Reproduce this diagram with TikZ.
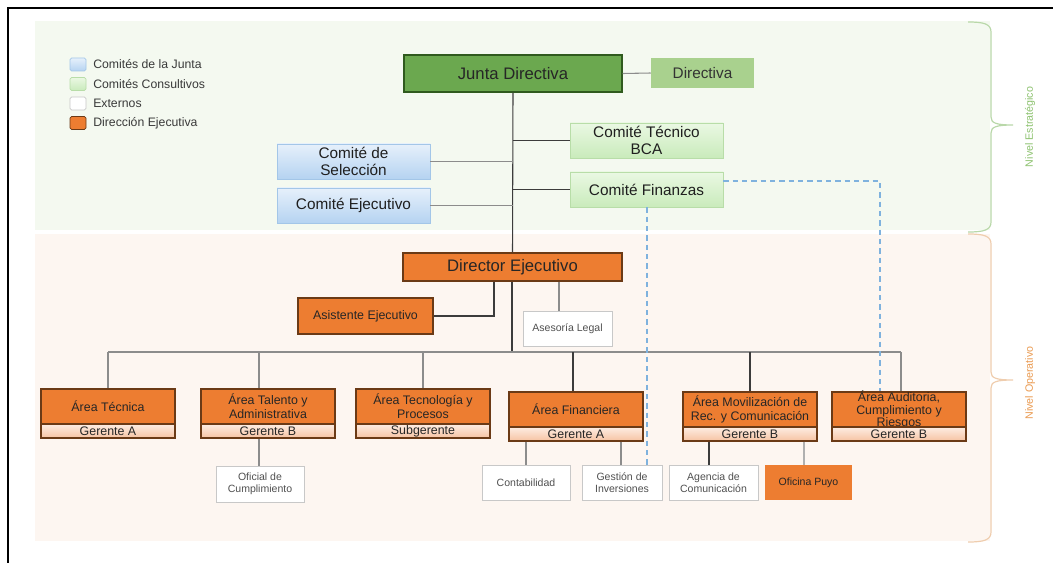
\documentclass[tikz,border=0pt]{standalone}
\usepackage{fontspec}
\setmainfont{Liberation Sans}
\usetikzlibrary{shadows}
\definecolor{bgG}{HTML}{F4F9F0}
\definecolor{bgP}{HTML}{FDF6F1}
\definecolor{juntaF}{HTML}{6BA84F}
\definecolor{juntaB}{HTML}{2F5A1E}
\definecolor{dirF}{HTML}{A9D18E}
\definecolor{cgTop}{HTML}{EAF8E3}
\definecolor{cgBot}{HTML}{C9EBBB}
\definecolor{cgB}{HTML}{B8DDA8}
\definecolor{cbTop}{HTML}{E6F0FB}
\definecolor{cbBot}{HTML}{B5D3F1}
\definecolor{cbB}{HTML}{A3C6E8}
\definecolor{oraF}{HTML}{ED7D31}
\definecolor{oraB}{HTML}{6B3A16}
\definecolor{gerTop}{HTML}{FDEDE3}
\definecolor{gerBot}{HTML}{F6C3A2}
\definecolor{extB}{HTML}{C8C8C8}
\definecolor{extT}{HTML}{505050}
\definecolor{lineD}{HTML}{3C3C3C}
\definecolor{lineG}{HTML}{8C8C8C}
\definecolor{lineL}{HTML}{B0B0B0}
\definecolor{dashB}{HTML}{7FB2DE}
\definecolor{braceG}{HTML}{B9D8A9}
\definecolor{braceO}{HTML}{EFCDAE}
\definecolor{nivG}{HTML}{8DC26F}
\definecolor{nivO}{HTML}{EA9A50}
\definecolor{legT}{HTML}{3A3A3A}
\begin{document}
\begin{tikzpicture}[x=0.75pt,y=-0.75pt,
  every node/.style={inner sep=0pt, align=center},
  fbig/.style={font=\fontsize{12.5}{14}\selectfont},
  fmid/.style={font=\fontsize{11.5}{12.8}\selectfont},
  fsm/.style={font=\fontsize{9.3}{10.5}\selectfont},
  fext/.style={font=\fontsize{7.9}{9}\selectfont},
  shad/.style={drop shadow={shadow xshift=0.9pt, shadow yshift=-0.9pt, opacity=0.22, fill=black}},
  juntabox/.style={fbig, draw=juntaB, line width=1.1pt, fill=juntaF, text=black!85, minimum width=163.5pt, minimum height=27.75pt, shad},
  dirbox/.style={fmid, fill=dirF, text=black!80, minimum width=77.25pt, minimum height=22.5pt},
  cgbox/.style={fmid, draw=cgB, line width=0.6pt, top color=cgTop, bottom color=cgBot, text=black!88, minimum width=114.75pt, minimum height=26.25pt, shad},
  cbbox/.style={fmid, draw=cbB, line width=0.6pt, top color=cbTop, bottom color=cbBot, text=black!88, minimum width=114.75pt, minimum height=26.25pt, shad},
  orabox/.style={draw=oraB, line width=1.1pt, fill=oraF, text=black!85, shad},
  areabox/.style={orabox, fsm, minimum width=100.5pt, minimum height=26.25pt},
  gerbox/.style={fsm, draw=oraB, line width=1.1pt, top color=gerTop, bottom color=gerBot, text=black!85, minimum width=100.5pt, minimum height=10.5pt},
  extbox/.style={fext, draw=extB, line width=0.6pt, fill=white, text=extT, minimum height=26.25pt},
  pbox/.style={fext, fill=oraF, text=black!85, minimum height=26.25pt},
  legsq/.style={minimum width=12pt, minimum height=9.75pt, rounded corners=1.2pt, line width=0.6pt},
  legtx/.style={anchor=west, text=legT, font=\fontsize{9.2}{10}\selectfont},
  trunk/.style={draw=lineD, line width=0.8pt},
  gline/.style={draw=lineG, line width=0.8pt},
  lline/.style={draw=lineL, line width=0.8pt},
  dashl/.style={draw=dashB, line width=1pt, dash pattern=on 4pt off 3pt},
  bracel/.style={line width=0.9pt}
]
\useasboundingbox (0,0) rectangle (1053,563);
\fill[white] (0,0) rectangle (1053,563);
% backgrounds
\fill[bgG] (35,21) rectangle (990,230);
\fill[bgP] (35,234) rectangle (990,541);
% frame
\draw[line width=1.5pt] (8,563) -- (8,8) -- (1053,8);

% braces
\draw[bracel, draw=braceG] (968,22) .. controls (984,22) and (991,24) .. (991,32) -- (991,117)
  .. controls (991,123) and (996,125) .. (1013,125)
  .. controls (996,125) and (991,127) .. (991,133) -- (991,222)
  .. controls (991,230) and (984,232) .. (968,232);
\draw[bracel, draw=braceO] (968,234) .. controls (984,234) and (991,236) .. (991,244) -- (991,372)
  .. controls (991,378) and (996,380) .. (1013,380)
  .. controls (996,380) and (991,382) .. (991,388) -- (991,532)
  .. controls (991,540) and (984,542) .. (968,542);
\node[rotate=90, text=nivG, font=\fontsize{8}{9}\selectfont] (nivE) at (1030,127) {Nivel Estratégico};
\node[rotate=90, text=nivO, font=\fontsize{8}{9}\selectfont] (nivO) at (1030,383) {Nivel Operativo};

% legend
\node[legsq, draw=cbB, top color=cbTop, bottom color=cbBot] (lg1) at (78,64.5) {};
\node[legsq, draw=cgB, top color=cgTop, bottom color=cgBot] (lg2) at (78,84) {};
\node[legsq, draw=extB, fill=white] (lg3) at (78,103.5) {};
\node[legsq, draw=oraB, fill=oraF] (lg4) at (78,123) {};
\node[legtx] (lt1) at (93,64.5) {Comités de la Junta};
\node[legtx] (lt2) at (93,84) {Comités Consultivos};
\node[legtx] (lt3) at (93,103.5) {Externos};
\node[legtx] (lt4) at (93,123) {Dirección Ejecutiva};

% strategic level
\node[juntabox] (junta) at (513,73.5) {Junta Directiva};
\node[dirbox] (directiva) at (702.5,73) {Directiva};
\node[cgbox] (tecnico) at (646.5,140.5) {Comité Técnico\\BCA};
\node[cgbox] (finanzas) at (646.5,189.5) {Comité Finanzas};
\node[cbbox] (seleccion) at (353.5,161.5) {Comité de\\Selección};
\node[cbbox] (cejec) at (353.5,205.5) {Comité Ejecutivo};

% operative level
\node[orabox, fbig, minimum width=164.25pt, minimum height=21pt] (director) at (512.5,267) {Director Ejecutivo};
\node[orabox, fsm, minimum width=101.25pt, minimum height=27pt] (asistente) at (365.5,316) {Asistente Ejecutivo};
\node[extbox, minimum width=66.75pt] (legal) at (567.5,328.5) {Asesoría Legal};

\node[areabox] (tecA) at (108,406.5) {Área Técnica};
\node[gerbox] (tecG) at (108,431) {Gerente A};
\node[areabox] (talA) at (268,406.5) {Área Talento y\\Administrativa};
\node[gerbox] (talG) at (268,431) {Gerente B};
\node[areabox] (tcpA) at (423,406.5) {Área Tecnología y\\Procesos};
\node[gerbox] (tcpG) at (423,431) {Subgerente};
\node[areabox] (finA) at (576,409.5) {Área Financiera};
\node[gerbox] (finG) at (576,434) {Gerente A};
\node[areabox] (movA) at (750,409.5) {Área Movilización de\\Rec. y Comunicación};
\node[gerbox] (movG) at (750,434) {Gerente B};
\node[areabox] (audA) at (899,409.5) {};
\node[font=\fontsize{9.3}{9.6}\selectfont, text=black!85] (audT) at (899,410) {Área Auditoria,\\Cumplimiento y\\Riesgos};
\node[gerbox] (audG) at (899,434) {Gerente B};

\node[extbox, minimum width=66pt, minimum height=27pt] (oficial) at (260,484) {Oficial de\\Cumplimiento};
\node[extbox, minimum width=66pt] (contab) at (526,482.5) {Contabilidad};
\node[extbox, minimum width=60pt] (gestion) at (622,482.5) {Gestión de\\Inversiones};
\node[extbox, minimum width=66.75pt] (agencia) at (713.5,482.5) {Agencia de\\Comunicación};
\node[pbox, minimum width=65.25pt] (puyo) at (808.5,482.5) {Oficina Puyo};

% coordinates
\coordinate (bar) at (512,352);
\coordinate (dTec) at (108,352);
\coordinate (dTal) at (259,352);
\coordinate (dTcp) at (423,352);
\coordinate (dFin) at (573,352);
\coordinate (dMov) at (750,352);
\coordinate (dAud) at (901,352);
\coordinate (asC) at (494,316);
\coordinate (lgC) at (559,311);
\coordinate (agC) at (709,465);
\coordinate (puC) at (804,465);
\coordinate (ofC) at (259,466);
\coordinate (dk) at (880,181);
\coordinate (dg) at (647,465);

% connectors
\draw[trunk] (junta.south) -- (director.north);
\draw[gline] (junta.east) -- (directiva.west);
\draw[trunk] (tecnico.west) -- (tecnico.west -| junta.south);
\draw[trunk] (finanzas.west) -- (finanzas.west -| junta.south);
\draw[gline] (seleccion.east) -- (seleccion.east -| junta.south);
\draw[gline] (cejec.east) -- (cejec.east -| junta.south);
\draw[trunk] (bar |- director.south) -- (bar);
\draw[trunk] (asC |- director.south) -- (asC) -- (asistente.east);
\draw[gline] (lgC |- director.south) -- (lgC |- legal.north);
\draw[gline] (dTec) -- (dAud);
\draw[gline] (dTec) -- (dTec |- tecA.north);
\draw[gline] (dTal) -- (dTal |- talA.north);
\draw[gline] (dTcp) -- (dTcp |- tcpA.north);
\draw[trunk] (dFin) -- (dFin |- finA.north);
\draw[trunk] (dMov) -- (dMov |- movA.north);
\draw[gline] (dAud) -- (dAud |- audA.north);
\draw[gline] (ofC |- talG.south) -- (ofC |- oficial.north);
\draw[gline] (contab.north |- finG.south) -- (contab.north);
\draw[gline] (621,0 |- finG.south) -- (621,0 |- gestion.north);
\draw[trunk] (agC |- movG.south) -- (agC |- agencia.north);
\draw[lline] (puC |- movG.south) -- (puC |- puyo.north);
\draw[dashl] (dk -| finanzas.east) -- (dk) -- (dk |- audA.north);
\draw[dashl] (dg |- finanzas.south) -- (dg |- gestion.north);
\end{tikzpicture}
\end{document}
